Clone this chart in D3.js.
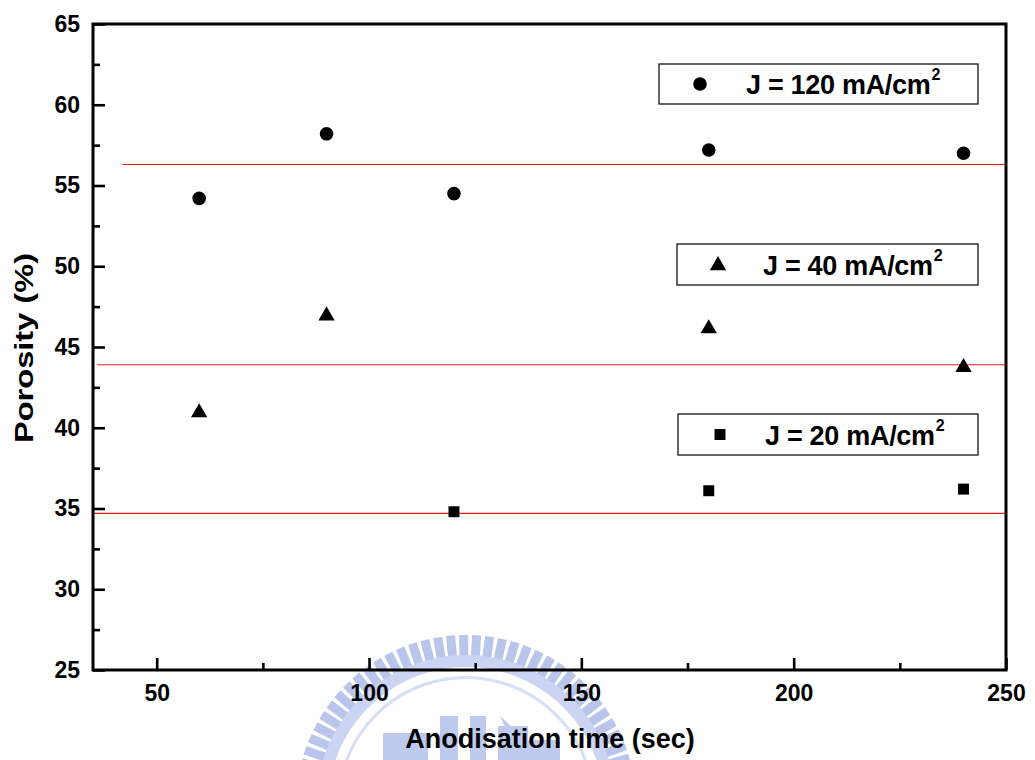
<!DOCTYPE html>
<html><head><meta charset="utf-8">
<script src="https://cdn.jsdelivr.net/npm/d3@7"></script>
<style>
html,body{margin:0;padding:0;background:#fff;}
svg text{font-family:"Liberation Sans",Arial,sans-serif;font-weight:bold;fill:#000;}
</style></head>
<body>
<svg id="chart" width="1035" height="760"></svg>
<script>
// ---- data ----
const time120 = [60, 90, 120, 180, 240];
const por120  = [54.2, 58.2, 54.5, 57.2, 57.0];
const time40  = [60, 90, 180, 240];
const por40   = [41.0, 47.0, 46.2, 43.8];
const time20  = [120, 180, 240];
const por20   = [34.8, 36.1, 36.2];
const refLevels = [56.3, 43.9, 34.7];
const refStarts = [42, 36, 35];
const xTicks = [50, 100, 150, 200, 250];
const xMinor = [75, 125, 175, 225];
const yTicks = [25, 30, 35, 40, 45, 50, 55, 60, 65];
const yMinor = [27.5, 32.5, 37.5, 42.5, 47.5, 52.5, 57.5, 62.5];
const legendLabels = ["J = 120 mA/cm", "J = 40 mA/cm", "J = 20 mA/cm"];

const svg = d3.select("#chart");
const L = 93, R = 1006, T = 24, B = 670;
const x = d3.scaleLinear().domain([35, 250]).range([L, R]);
const y = d3.scaleLinear().domain([25, 65]).range([B, T]);

// ---- watermark (faint logo) ----
const wm = svg.append("g").attr("opacity", 0.85);
const cx = 466, cy = 805;
const teeth = d3.range(-80, 81, 4.4);
wm.selectAll("rect.tooth").data(teeth).enter().append("rect")
  .attr("x", -4.5).attr("y", -170).attr("width", 9).attr("height", 24)
  .attr("fill", "#aebbe9")
  .attr("transform", d => `translate(${cx},${cy}) rotate(${d})`);
wm.append("path")
  .attr("d", d3.arc()({innerRadius: 138, outerRadius: 150, startAngle: -1.45, endAngle: 1.45}))
  .attr("transform", `translate(${cx},${cy})`).attr("fill", "#c3cdf0");
wm.append("path")
  .attr("d", d3.arc()({innerRadius: 126, outerRadius: 129, startAngle: -1.4, endAngle: 1.4}))
  .attr("transform", `translate(${cx},${cy})`).attr("fill", "#d2daf4");
[[383,733,45,30],[440,716,18,44],[470,716,16,44],[498,726,30,34],[520,740,40,20]].forEach(b=>{
  wm.append("rect").attr("x",b[0]).attr("y",b[1]).attr("width",b[2]).attr("height",b[3]).attr("fill","#b3c0ec");
});
wm.append("path").attr("d","M500,716 L548,760 L520,760 Z").attr("fill","#b3c0ec");

// ---- reference lines ----
svg.append("g").selectAll("line").data(refLevels).enter().append("line")
  .attr("x1", (d, i) => x(refStarts[i])).attr("x2", x(250))
  .attr("y1", d => y(d)).attr("y2", d => y(d))
  .attr("stroke", "#e01c1c").attr("stroke-width", 1.2);

// ---- axes ----
function styleAxis(g){
  g.select(".domain").remove();
  g.selectAll(".tick line").attr("stroke", "#000").attr("stroke-width", 2.6);
  g.selectAll(".tick text").style("font-size", "23px");
}
svg.append("g").attr("transform", `translate(${L},0)`)
  .call(d3.axisLeft(y).tickValues(yTicks).tickSizeInner(-12).tickSizeOuter(0).tickPadding(13).tickFormat(d3.format("d")))
  .call(styleAxis);
svg.append("g").attr("transform", `translate(${L},0)`)
  .call(d3.axisLeft(y).tickValues(yMinor).tickSizeInner(-7).tickSizeOuter(0).tickFormat(""))
  .call(styleAxis);
svg.append("g").attr("transform", `translate(0,${B})`)
  .call(d3.axisBottom(x).tickValues(xTicks).tickSizeInner(-12).tickSizeOuter(0).tickPadding(15).tickFormat(d3.format("d")))
  .call(styleAxis);
svg.append("g").attr("transform", `translate(0,${B})`)
  .call(d3.axisBottom(x).tickValues(xMinor).tickSizeInner(-7).tickSizeOuter(0).tickFormat(""))
  .call(styleAxis);

// frame
svg.append("rect").attr("x", L).attr("y", T).attr("width", R - L).attr("height", B - T)
  .attr("fill", "none").attr("stroke", "#000").attr("stroke-width", 3);

// ---- points ----
const pts120 = time120.map((t, i) => ({t, p: por120[i]}));
const pts40 = time40.map((t, i) => ({t, p: por40[i]}));
const pts20 = time20.map((t, i) => ({t, p: por20[i]}));
const circ = d3.symbol().type(d3.symbolCircle).size(Math.PI * 6.8 * 6.8)();
const tri = d3.symbol().type(d3.symbolTriangle).size(115)();
const sq = d3.symbol().type(d3.symbolSquare).size(120)();
svg.append("g").selectAll("path").data(pts120).enter().append("path")
  .attr("d", circ).attr("transform", d => `translate(${x(d.t)},${y(d.p)})`).attr("fill", "#000");
svg.append("g").selectAll("path").data(pts40).enter().append("path")
  .attr("d", tri).attr("transform", d => `translate(${x(d.t)},${y(d.p)+1})`).attr("fill", "#000");
svg.append("g").selectAll("path").data(pts20).enter().append("path")
  .attr("d", sq).attr("transform", d => `translate(${x(d.t)},${y(d.p)})`).attr("fill", "#000");

// ---- legend boxes ----
const boxes = [
  {x0: 659, y0: 64, w: 319, h: 40, mx: 700, tx: 746, sym: circ},
  {x0: 677, y0: 244, w: 301, h: 41, mx: 718, tx: 763, sym: tri},
  {x0: 678, y0: 414, w: 300, h: 41, mx: 720, tx: 765, sym: sq}
];
boxes.forEach((b, i) => {
  const g = svg.append("g");
  g.append("rect").attr("x", b.x0).attr("y", b.y0).attr("width", b.w).attr("height", b.h)
    .attr("fill", "#fff").attr("stroke", "#000").attr("stroke-width", 1.2);
  const my = b.y0 + b.h / 2;
  g.append("path").attr("d", b.sym).attr("transform", `translate(${b.mx},${my + (i===1?1:0)})`).attr("fill", "#000");
  const t = g.append("text").attr("x", b.tx).attr("y", my + 10).style("font-size", "27px")
    .style("letter-spacing", "-0.3px");
  t.append("tspan").text(legendLabels[i]);
  t.append("tspan").attr("dy", -14).attr("dx", 1).style("font-size", "16px").text("2");
});

// ---- axis titles ----
svg.append("text").attr("x", 550).attr("y", 748).attr("text-anchor", "middle")
  .style("font-size", "27px").text("Anodisation time (sec)");
svg.append("text").attr("transform", "translate(33,348) rotate(-90)").attr("text-anchor", "middle")
  .style("font-size", "25px").attr("textLength", 190).attr("lengthAdjust", "spacingAndGlyphs")
  .text("Porosity (%)");
</script>
</body></html>
